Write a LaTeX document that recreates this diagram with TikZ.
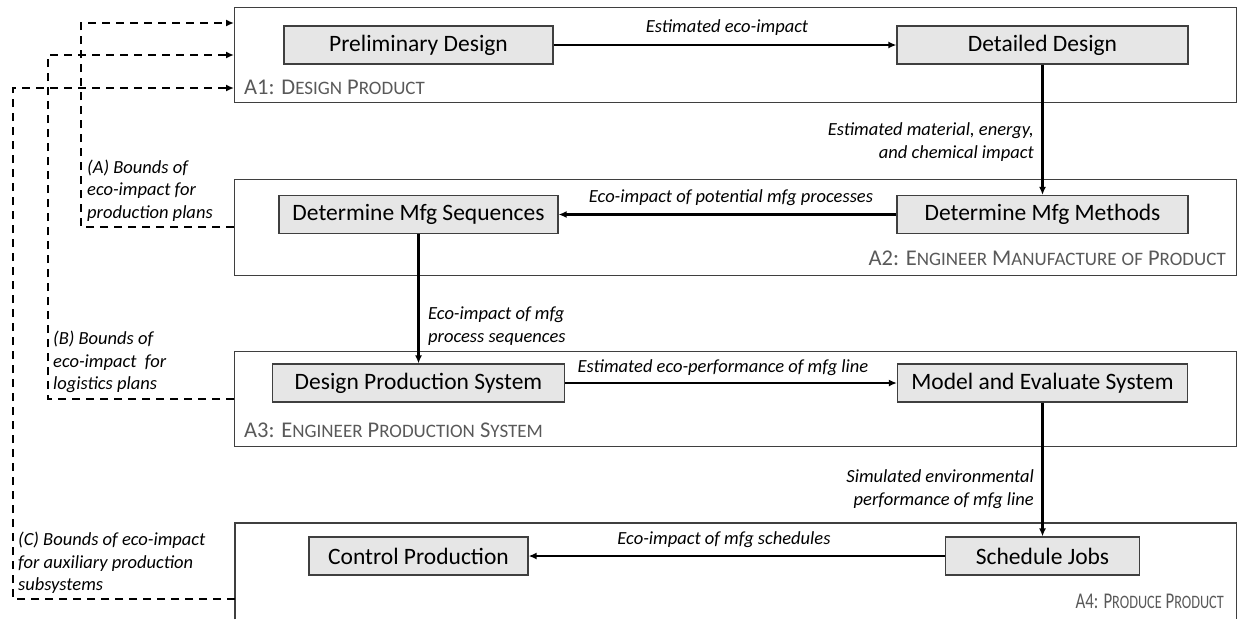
\documentclass[tikz,border=0pt]{standalone}
\usepackage{fontspec}
\setmainfont{Carlito}
\usetikzlibrary{arrows.meta,calc}
\definecolor{boxfill}{HTML}{E6E6E6}
\definecolor{edge}{HTML}{3F3F3F}
\definecolor{caption}{HTML}{595959}
% small capitals built from reduced upper-case letters
\newcommand\smc[1]{{\fontsize{19}{19}\selectfont #1}}

\begin{document}
\begin{tikzpicture}[x=1pt,y=-1pt,
  stage/.style={draw=edge, line width=1.3pt, inner sep=0pt},
  proc/.style={draw=edge, fill=boxfill, line width=1.2pt, minimum height=38,
    inner sep=0pt, font=\fontsize{23.5}{23.5}\selectfont, text=black},
  flow/.style={line width=2.3pt, -{Latex[length=8pt,width=7pt]}},
  feedback/.style={line width=2.3pt, dash pattern=on 8pt off 6pt,
    -{Latex[length=8pt,width=7pt]}},
  note/.style={font=\fontsize{18.5}{22.5}\selectfont\itshape, inner sep=0pt},
  stagelabel/.style={font=\fontsize{22.5}{22.5}\selectfont, text=caption, inner sep=0pt}
]
\useasboundingbox (0,0) rectangle (1238,619);

% stage frames
\node[stage, minimum width=1002, minimum height=95, anchor=north west] (A1) at (234,7) {};
\node[stage, minimum width=1002, minimum height=96, anchor=north west] (A2) at (234,179) {};
\node[stage, minimum width=1002, minimum height=95, anchor=north west] (A3) at (234,351) {};
\node[inner sep=0pt, minimum width=1001, minimum height=96, anchor=north west] (A4) at (235,523) {};
\draw[draw=edge, line width=1.3pt] (A4.south west) |- (A4.north east) -- (A4.south east);

% stage titles
\node[stagelabel, anchor=west] (t1) at (244,87) {A1: D\smc{ESIGN} P\smc{RODUCT}};
\node[stagelabel, anchor=east] (t2) at (1226,258) {A2: E\smc{NGINEER} M\smc{ANUFACTURE} \smc{OF} P\smc{RODUCT}};
\node[stagelabel, anchor=west] (t3) at (244,430) {A3: E\smc{NGINEER} P\smc{RODUCTION} S\smc{YSTEM}};
\node[stagelabel, anchor=east] (t4) at (1224,601) {\scalebox{0.75}[1]{A4: P\smc{RODUCE} P\smc{RODUCT}}};

% activities
\node[proc, minimum width=269] (prelim) at (418.5,45) {Preliminary Design};
\node[proc, minimum width=291] (detail) at (1042.5,45) {Detailed Design};
\node[proc, minimum width=279] (seq) at (418.5,214.5) {Determine Mfg Sequences};
\node[proc, minimum width=291] (meth) at (1042.5,214.5) {Determine Mfg Methods};
\node[proc, minimum width=292] (dps) at (418.5,383) {Design Production System};
\node[proc, minimum width=290] (model) at (1042.5,383) {Model and Evaluate System};
\node[proc, minimum width=219] (ctrl) at (418.5,556) {Control Production};
\node[proc, minimum width=194] (sched) at (1042.5,556) {Schedule Jobs};

% information flows
\draw[flow] (prelim.east) -- (detail.west);
\draw[flow] (detail.south) -- (meth.north);
\draw[flow] (meth.west) -- (seq.east);
\draw[flow] (seq.south) -- (dps.north);
\draw[flow] (dps.east) -- (model.west);
\draw[flow] (model.south) -- (sched.north);
\draw[flow] (sched.west) -- (ctrl.east);

\node[note] (l1) at (727,28) {Estimated eco-impact};
\node[note, anchor=east, align=right] (l2) at (1034,142) {Estimated material, energy,\\and chemical impact};
\node[note] (l3) at (731,198) {Eco-impact of potential mfg processes};
\node[note, anchor=west, align=left] (l4) at (428,326) {Eco-impact of mfg\\process sequences};
\node[note] (l5) at (723,368) {Estimated eco-performance of mfg line};
\node[note, anchor=east, align=right] (l6) at (1034,489) {Simulated environmental\\performance of mfg line};
\node[note] (l7) at (724,540) {Eco-impact of mfg schedules};

% feedback bounds
\coordinate (aTop) at (81,23);  \coordinate (aBot) at (81,227);
\coordinate (bTop) at (48,55);  \coordinate (bBot) at (48,399);
\coordinate (cTop) at (13,88);  \coordinate (cBot) at (13,599);
\draw[feedback] (A2.west |- aBot) -- (aBot) -- (aTop) -- (A1.west |- aTop);
\draw[feedback] (A3.west |- bBot) -- (bBot) -- (bTop) -- (A1.west |- bTop);
\draw[feedback] (A4.west |- cBot) -- (cBot) -- (cTop) -- (A1.west |- cTop);

\node[note, anchor=west, align=left] (fa) at (87,190.5) {(A) Bounds of\\eco-impact for\\production plans};
\node[note, anchor=west, align=left] (fb) at (53,362) {(B) Bounds of\\eco-impact\ \ for\\logistics plans};
\node[note, anchor=west, align=left] (fc) at (18,563) {(C) Bounds of eco-impact\\for auxiliary production\\subsystems};
\end{tikzpicture}
\end{document}
